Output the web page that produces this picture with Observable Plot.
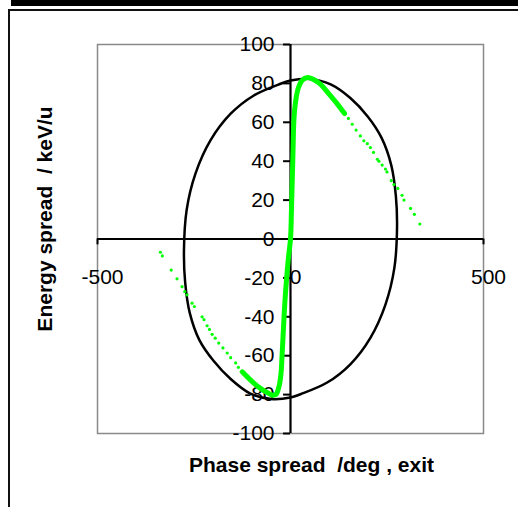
<!DOCTYPE html>
<html>
<head>
<meta charset="utf-8">
<script src="https://cdn.jsdelivr.net/npm/d3@7"></script>
<script src="https://cdn.jsdelivr.net/npm/@observablehq/plot@0.6"></script>
<style>
  html, body { margin: 0; padding: 0; background: #fff; }
  #chart { position: relative; width: 518px; height: 507px; overflow: hidden; font-family: "Liberation Sans", Arial, sans-serif; }
  #chart svg text { white-space: pre; }
  .topbar { position: absolute; left: 11px; top: 0; width: 507px; height: 6px; background: #000; }
  .outer { position: absolute; left: 8px; top: 9px; width: 600px; height: 600px; border-left: 2px solid #111; border-top: 2px solid #111; box-sizing: border-box; }
</style>
</head>
<body>
<div id="chart"></div>
<script>
// Axis ticks
const phaseTicks = [-500, 0, 500];
const energyTicks = [-100, -80, -60, -40, -20, 0, 20, 40, 60, 80, 100];

// Acceptance ellipse outline (deg, keV/u)
const ellipsePhase  = [276, 273, 261, 236, 200, 155, 104, 50, 0, -26, -95, -155, -207, -246, -269, -276, -273, -261, -236, -200, -155, -104, -50, 0, 26, 95, 155, 207, 246, 269];
const ellipseEnergy = [6, 22, 38, 52, 63, 72.5, 79.5, 82.3, 81.5, 79.8, 73.8, 64.4, 50.8, 33.7, 15, -6, -22, -38, -52, -62.5, -72, -79.5, -82.3, -81.5, -79.8, -73.8, -64.4, -50.8, -33.7, -15];

// Dense core of the bunch at the exit
const corePhase  = [-125, -100, -78, -60, -48, -38, -30, -25, -21.5, -18, -14.7, -10, -5, 0, 2.5, 4.5, 6.5, 8.5, 11, 15, 20, 30, 44, 58, 78, 100, 121, 140];
const coreEnergy = [-68.3, -73.2, -76.8, -79, -80.2, -80, -76, -70, -58.6, -45, -33, -20, -9, 0, 15, 30, 45, 60, 67, 73, 77.5, 81.5, 83, 82.2, 79.5, 74.5, 69.5, 64.5];

// Sparse halo particles, lower-left tail
const tailLowPhase  = [-337, -332, -309, -294, -281, -274, -268, -255, -249, -229, -224, -216, -210, -203, -195, -186, -175, -164, -155, -142, -135, -121, -112, -99];
const tailLowEnergy = [-6.8, -8.7, -16, -20.5, -24.5, -27, -28.7, -33, -34.7, -40, -41.5, -44.6, -46.5, -49, -51, -53.5, -56, -58.6, -61, -63.7, -66, -69, -71, -73];

// Sparse halo particles, upper-right tail
const tailHighPhase  = [140, 150, 160, 170, 181, 190, 199, 207, 215, 225, 229, 237.5, 246, 250, 261, 268, 278, 289, 294, 311, 321, 335];
const tailHighEnergy = [64.5, 62, 59, 56, 53, 50.5, 49, 47, 44.5, 41, 40, 38, 36, 34.5, 30, 28, 26, 22.5, 20, 15.7, 12.7, 7.7];

const ellipse = ellipsePhase.map((p, i) => ({phase: p, energy: ellipseEnergy[i]}));
const core = corePhase.map((p, i) => ({phase: p, energy: coreEnergy[i]}));
const halo = [
  ...tailLowPhase.map((p, i) => ({phase: p, energy: tailLowEnergy[i]})),
  ...tailHighPhase.map((p, i) => ({phase: p, energy: tailHighEnergy[i]}))
];

const green = "#00ff00";
const fs = 21;

const plot = Plot.plot({
  width: 518,
  height: 507,
  marginLeft: 97,
  marginRight: 35,
  marginTop: 44,
  marginBottom: 74,
  style: {fontFamily: "'Liberation Sans', Arial, sans-serif", background: "white"},
  x: {domain: [-500, 500], axis: null},
  y: {domain: [-100, 100], axis: null},
  marks: [
    Plot.frame({stroke: "#8a8a8a", strokeWidth: 1.5}),
    // axes crossing at the origin
    Plot.ruleY([0], {stroke: "black", strokeWidth: 2.2}),
    Plot.ruleX([0], {stroke: "black", strokeWidth: 2.2}),
    Plot.ruleY(energyTicks, {x1: 0, x2: -18, stroke: "black", strokeWidth: 2}),
    Plot.ruleX(phaseTicks, {y1: 0, y2: -3, stroke: "black", strokeWidth: 2}),
    Plot.text(energyTicks, {x: 0, y: d => d, text: d => String(d), textAnchor: "end", dx: -16, fontSize: fs, fill: "black"}),
    Plot.text(phaseTicks, {x: d => d, y: 0, text: d => String(d), dy: 38, dx: 5, fontSize: fs, fill: "black"}),
    // ellipse
    Plot.line(ellipse, {x: "phase", y: "energy", curve: "catmull-rom-closed", stroke: "black", strokeWidth: 2.5}),
    // particles
    Plot.line(core, {x: "phase", y: "energy", curve: "catmull-rom", stroke: green, strokeWidth: 5}),
    Plot.dot(halo, {x: "phase", y: "energy", r: 1.6, fill: green, stroke: "none"}),
    // axis titles
    Plot.text(["Phase spread  /deg , exit"], {frameAnchor: "bottom", dy: 38, dx: 21, fontSize: fs, fontWeight: "bold", fill: "black"}),
    Plot.text(["Energy spread  / keV/u"], {frameAnchor: "left", textAnchor: "middle", dx: -52, dy: -20, rotate: -90, fontSize: fs, fontWeight: "bold", fill: "black"})
  ]
});

const chart = document.getElementById("chart");
chart.appendChild(plot);
const bar = document.createElement("div"); bar.className = "topbar"; chart.appendChild(bar);
const outer = document.createElement("div"); outer.className = "outer"; chart.appendChild(outer);
plot.style.position = "absolute";
plot.style.left = "0";
plot.style.top = "0";
</script>
</body>
</html>
